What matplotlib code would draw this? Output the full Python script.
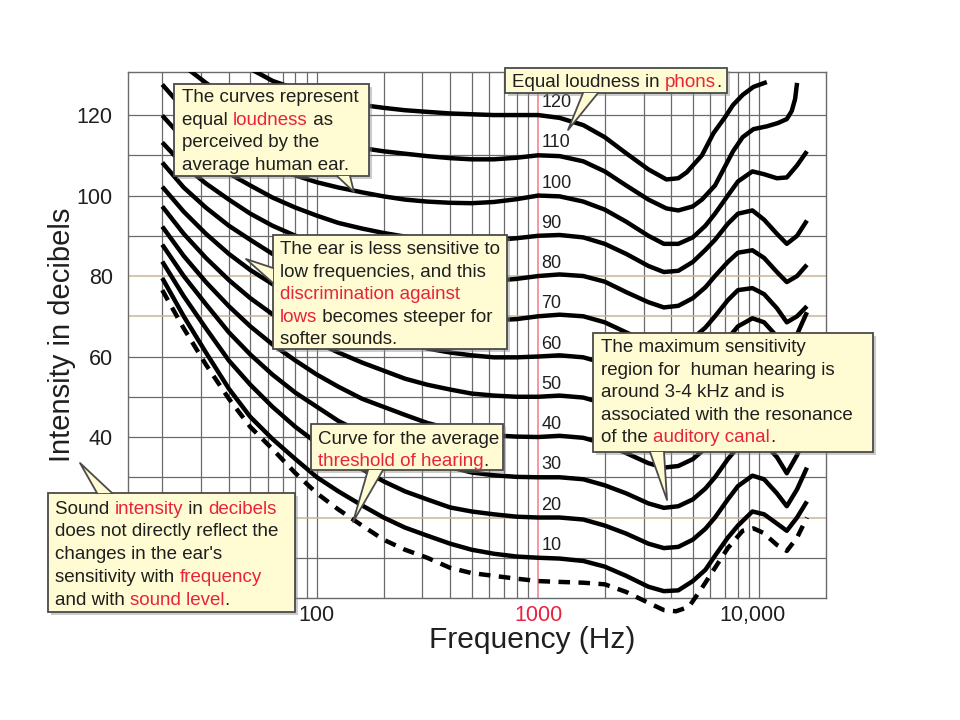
import matplotlib

matplotlib.use("Agg")
import matplotlib.pyplot as plt
from matplotlib.patches import Polygon, Rectangle
from matplotlib.transforms import ScaledTranslation

plt.rcParams["font.family"] = ["Liberation Sans", "DejaVu Sans"]

INK = "#1f1f1f"
RED = "#e8233d"
GRID = "#6a6a6a"
TAN = "#c9b597"
BOX_FILL = "#fffbd2"
BOX_EDGE = "#4a4a4a"

# shared frequency grid (Hz) for the 10 ... 100 phon curves
freq_hz = [20, 25, 31.5, 40, 50, 63, 80, 100, 125, 160, 200, 250, 315, 400, 500, 630, 800, 1000,
           1250, 1600, 2000, 2500, 3150, 3700, 4300, 5000, 5700, 6300, 7200, 8000, 9300, 10500,
           12000, 13300, 14800, 16400]

phon_10 = [79.5, 70, 61, 52, 45, 39.5, 34.5, 30, 26.5, 23, 20, 17.5, 15.5, 13.5, 12, 11, 10.3, 10,
           9.8, 9.2, 7.8, 5.5, 2.8, 1.7, 1.9, 4.2, 7, 10.5, 15, 18, 21.5, 20.8, 18.5, 16.7, 20, 24]
phon_20 = [83.6, 75, 67, 59, 53, 47.5, 42.5, 38.5, 35, 32, 29, 26.5, 24.5, 22.5, 21.5, 20.8, 20.2, 20,
           20, 19.5, 18, 16, 13.5, 12.4, 12.7, 14.5, 17.2, 20, 24.5, 27.8, 30.4, 29.5, 26, 22.8, 27, 32.4]
phon_30 = [87.8, 80, 73, 66, 60.5, 55.5, 51, 47.5, 44, 41, 38.5, 36, 34, 32.5, 31.2, 30.5, 30.1, 30,
           30, 29.5, 28, 26, 23.5, 22.4, 22.8, 24.5, 27.2, 30, 34.5, 37.5, 39.5, 38.5, 35, 31, 35.5, 41]
phon_40 = [92.3, 85, 78.5, 72.5, 67.5, 63, 59, 55.5, 52.5, 49.5, 47.5, 45.5, 43.5, 42, 41, 40.4, 40.1, 40,
           40.3, 39.8, 38.3, 36, 33.5, 32.4, 32.8, 34.5, 37.2, 40, 44.5, 47.5, 49.5, 48.5, 45, 41, 45.5, 51]
phon_50 = [97.3, 90.5, 84.5, 79, 74.5, 70.5, 66.5, 63.5, 61, 58.5, 56.5, 54.5, 53, 51.8, 50.8, 50.3, 50, 50,
           50.3, 49.8, 48.3, 46, 43.5, 42.4, 42.8, 44.5, 47.2, 50, 54.5, 57.5, 59.5, 58.5, 55, 51, 55.5, 61]
phon_60 = [102.2, 96, 90.5, 85.5, 81.5, 78, 74.5, 71.5, 69, 67, 65, 63.5, 62, 61, 60.3, 59.8, 59.8, 60,
           60.3, 59.8, 58.3, 56, 53.5, 52.4, 52.8, 54.5, 57.2, 60, 64.5, 67.5, 69.5, 68.5, 65, 61, 65.5, 71]
phon_70 = [108.2, 102, 97, 92.5, 89, 85.5, 82.5, 80, 77.5, 75.5, 73.7, 72.2, 71, 70, 69.3, 69, 69.3, 70,
           70.4, 70, 68.5, 66, 63.5, 62.3, 62.7, 64.5, 67.2, 70, 74, 76.5, 77, 75.5, 72, 68.5, 70, 72.5]
phon_80 = [113.2, 107.5, 103, 99, 95.5, 92.5, 90, 87.5, 85.5, 83.5, 82, 80.8, 79.8, 79, 78.7, 78.8, 79.3, 80,
           80.4, 80, 78.6, 76, 73.5, 72.2, 72.6, 74.5, 77.2, 80, 83.5, 85.8, 86.4, 84.5, 81, 78.5, 80, 82.8]
phon_90 = [119.9, 114, 109.5, 105.5, 102.5, 99.5, 97, 95, 93.2, 91.8, 90.7, 89.8, 89.2, 88.8, 88.7, 88.9, 89.4, 90,
           90.2, 89.6, 88, 85.5, 82.5, 81, 81.3, 83.5, 86.5, 89, 93, 95.5, 96.3, 94, 90.5, 88, 90, 93.8]
phon_100 = [127.6, 121.5, 116.5, 112.5, 109.5, 107, 105, 103.3, 102, 100.8, 99.8, 99, 98.5, 98.2, 98.1, 98.4, 99.1, 100,
            99.8, 98.5, 96.5, 93.5, 90, 88, 88, 89.6, 92.5, 95.5, 100, 103.5, 106, 105.3, 104.3, 104.5, 107.5, 111]

# the two loudest curves leave the top of the chart, so they have their own grids
phon_110_hz = [26, 31.5, 40, 50, 63, 80, 100, 125, 160, 200, 250, 315, 400, 500, 630, 800, 1000,
               1250, 1600, 2000, 2500, 3150, 3800, 4300, 5000, 5500, 6300, 7600, 8400, 9400, 10800,
               12100, 13300, 14000, 14500, 14800]
phon_110 = [131.5, 128, 124, 121, 118.5, 116.5, 114.5, 113, 111.8, 111, 110.4, 109.8, 109.3, 109, 109, 109.4, 110,
            109.8, 108.5, 106, 102.5, 99, 96.8, 96.3, 97.3, 99, 102.5, 111, 114.5, 116.5, 117.2,
            118, 119, 121, 124, 128]
phon_120_hz = [50, 63, 80, 100, 125, 160, 200, 250, 315, 400, 500, 630, 800, 1000, 1250, 1600, 2000,
               2500, 3150, 3800, 4300, 4700, 5500, 6200, 7000, 7600, 8400, 9400, 10800]
phon_120 = [131.5, 128.5, 126.5, 124.8, 123.5, 122.5, 121.8, 121.2, 120.8, 120.4, 120.2, 120, 120, 120,
            119.3, 117.5, 114.5, 110.5, 106.5, 104, 104.3, 105.8, 110, 115.5, 119.5, 122.5, 125, 127, 128.2]

# threshold of hearing (dashed)
threshold_hz = [20, 25, 31.5, 40, 50, 63, 80, 100, 125, 160, 200, 250, 315, 400, 500, 630, 800, 1000,
                1250, 1600, 2000, 2500, 3150, 3700, 4200, 4800, 5500, 6300, 7200, 8400, 9400, 10400,
                12000, 13300, 14800, 16400]
threshold_db = [76.5, 67, 58, 49.5, 42.5, 37, 31, 26, 22, 18, 14.5, 12, 10, 7.5, 6.2, 5.5, 4.8, 4.2,
                4.0, 3.8, 3.4, 1.5, -1.2, -3.0, -3.3, -2.2, 2.5, 7.5, 12.4, 16.7, 17.3, 16.2,
                13.2, 11.7, 15, 20]

phon_levels = [10, 20, 30, 40, 50, 60, 70, 80, 90, 100]
phon_curves = [phon_10, phon_20, phon_30, phon_40, phon_50, phon_60, phon_70, phon_80, phon_90, phon_100]
curve_labels = [120, 110, 100, 90, 80, 70, 60, 50, 40, 30, 20, 10]

grid_hz = [20, 30, 40, 50, 60, 70, 80, 90, 100, 200, 300, 400, 500, 600, 700, 800, 900,
           2000, 3000, 4000, 5000, 6000, 7000, 8000, 9000, 10000]
grid_db = [10, 20, 30, 40, 50, 60, 70, 80, 90, 100, 110, 120]
tan_db = [20, 70, 80]


def draw_line_parts(ax, renderer, x, y, parts, size):
    # write one line of text made of differently coloured pieces
    for piece, color in parts:
        ax.text(x, y, piece, color=color, fontsize=size, ha="left", va="baseline")
        probe = ax.text(0, 0, piece + "|", fontsize=size)
        bar = ax.text(0, 0, "|", fontsize=size)
        x += probe.get_window_extent(renderer).width - bar.get_window_extent(renderer).width
        probe.remove()
        bar.remove()


def callout(ax, renderer, box, pointer, lines, x_text, y_first, step=22.4, size=13.5):
    x0, y0, x1, y1 = box
    ax.add_patch(Rectangle((x0 + 3, y0 + 3), x1 - x0, y1 - y0, fc="#8c8c8c", ec="none", alpha=0.45))
    ax.add_patch(Rectangle((x0, y0), x1 - x0, y1 - y0, fc=BOX_FILL, ec=BOX_EDGE, lw=1.3))
    base_a, base_b, tip = pointer
    ax.add_patch(Polygon([base_a, tip, base_b], closed=True, fc=BOX_FILL, ec="none"))
    ax.plot([base_a[0], tip[0], base_b[0]], [base_a[1], tip[1], base_b[1]], color=BOX_EDGE, lw=1.3)
    for i, parts in enumerate(lines):
        draw_line_parts(ax, renderer, x_text, y_first + i * step + 6.5, parts, size)


fig = plt.figure(figsize=(9.6, 7.2), dpi=100)
fig.patch.set_facecolor("white")
ax = fig.add_axes([128 / 960, 1 - 598 / 720, 698 / 960, 526 / 720])
ax.set_xscale("log")
ax.set_xlim(14, 20000)
ax.set_ylim(0, 130.7)

for f in grid_hz:
    ax.axvline(f, color=GRID, lw=0.9, zorder=1)
for level in grid_db:
    ax.axhline(level, color=TAN if level in tan_db else GRID, lw=1.1 if level in tan_db else 0.9, zorder=1)
ax.axvline(1000, color="#f27a88", lw=1.1, zorder=1.5)

for level, values in zip(phon_levels, phon_curves):
    ax.plot(freq_hz, values, color="black", lw=3.2, solid_capstyle="butt", zorder=3)
ax.plot(phon_110_hz, phon_110, color="black", lw=3.2, solid_capstyle="butt", zorder=3)
ax.plot(phon_120_hz, phon_120, color="black", lw=3.2, solid_capstyle="butt", zorder=3)
ax.plot(threshold_hz, threshold_db, color="black", lw=3.2, dashes=(2.6, 1.9), zorder=3, clip_on=False)

for level in curve_labels:
    ax.text(1035, level + 3.1, str(level), fontsize=13, color=INK, ha="left", va="center", zorder=4)

ax.set_xticks([100, 1000, 10000], ["100", "1000", "10,000"])
ax.set_xticks([], minor=True)
ax.set_yticks([40, 60, 80, 100, 120])
ax.tick_params(axis="both", length=0, labelsize=15.5, labelcolor=INK)
ax.tick_params(axis="y", pad=11)
ax.tick_params(axis="x", pad=5)
xlabels = ax.get_xticklabels()
xlabels[1].set_color(RED)
xlabels[2].set_transform(xlabels[2].get_transform() + ScaledTranslation(-7 / 100, 0, fig.dpi_scale_trans))
for spine in ax.spines.values():
    spine.set_color(GRID)
    spine.set_linewidth(1.0)

fig.text(62 / 960, 1 - 335 / 720, "Intensity in decibels", rotation=90, fontsize=21,
         color=INK, ha="center", va="center")
fig.text(532 / 960, 1 - 640 / 720, "Frequency (Hz)", fontsize=21.5, color=INK, ha="center", va="center")

# overlay in pixel units for the call-out boxes
ov = fig.add_axes([0, 0, 1, 1], zorder=10)
ov.set_xlim(0, 960)
ov.set_ylim(720, 0)
ov.axis("off")
renderer = fig.canvas.get_renderer()

callout(ov, renderer, (505, 68, 727, 93), ((583, 93), (598, 93), (568, 130)),
        [[("Equal loudness in ", INK), ("phons", RED), (".", INK)]], 512, 80.5)

callout(ov, renderer, (174, 84, 369, 176), ((337, 176), (350, 176), (354, 192)),
        [[("The curves represent", INK)],
         [("equal ", INK), ("loudness", RED), (" as", INK)],
         [("perceived by the", INK)],
         [("average human ear.", INK)]], 182, 96)

callout(ov, renderer, (273, 235, 507, 349), ((273, 268), (273, 283), (246, 259)),
        [[("The ear is less sensitive to", INK)],
         [("low frequencies, and this", INK)],
         [("discrimination against", RED)],
         [("lows", RED), (" becomes steeper for", INK)],
         [("softer sounds.", INK)]], 280, 248)

callout(ov, renderer, (311, 424, 503, 470), ((368, 470), (383, 470), (353, 522)),
        [[("Curve for the average", INK)],
         [("threshold of hearing", RED), (".", INK)]], 318, 437)

callout(ov, renderer, (48, 493, 295, 612), ((97, 493), (112, 493), (80, 463)),
        [[("Sound ", INK), ("intensity", RED), (" in ", INK), ("decibels", RED)],
         [("does not directly reflect the", INK)],
         [("changes in the ear's", INK)],
         [("sensitivity with ", INK), ("frequency", RED)],
         [("and with ", INK), ("sound level", RED), (".", INK)]], 55, 507, step=22.8)

callout(ov, renderer, (593, 333, 873, 452), ((650, 452), (664, 452), (667, 500)),
        [[("The maximum sensitivity", INK)],
         [("region for  human hearing is", INK)],
         [("around 3-4 kHz and is", INK)],
         [("associated with the resonance", INK)],
         [("of the ", INK), ("auditory canal", RED), (".", INK)]], 601, 346)

fig.savefig("out.png", dpi=100)
